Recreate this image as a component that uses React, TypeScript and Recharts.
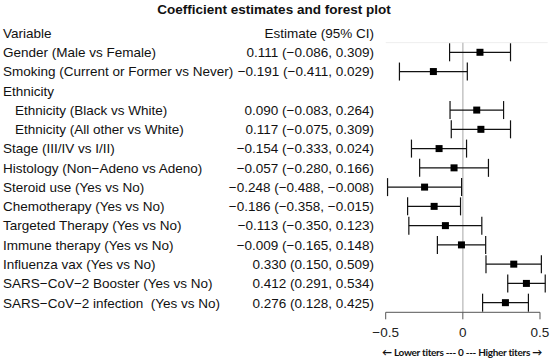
import { ScatterChart, Scatter, XAxis, YAxis, ErrorBar, ReferenceLine } from 'recharts';

// rows from top to bottom; null = heading row with no estimate
const variables = [
  'Gender (Male vs Female)',
  'Smoking (Current or Former vs Never)',
  'Ethnicity',
  'Ethnicity (Black vs White)',
  'Ethnicity (All other vs White)',
  'Stage (III/IV vs I/II)',
  'Histology (Non\u2212Adeno vs Adeno)',
  'Steroid use (Yes vs No)',
  'Chemotherapy (Yes vs No)',
  'Targeted Therapy (Yes vs No)',
  'Immune therapy (Yes vs No)',
  'Influenza vax (Yes vs No)',
  'SARS\u2212CoV\u22122 Booster (Yes vs No)',
  'SARS\u2212CoV\u22122 infection  (Yes vs No)',
];
const indented = [false, false, false, true, true, false, false, false, false, false, false, false, false, false];
const estimates = [0.111, -0.191, null, 0.090, 0.117, -0.154, -0.057, -0.248, -0.186, -0.113, -0.009, 0.330, 0.412, 0.276];
const lowerCI = [-0.086, -0.411, null, -0.083, -0.075, -0.333, -0.280, -0.488, -0.358, -0.350, -0.165, 0.150, 0.291, 0.128];
const upperCI = [0.309, 0.029, null, 0.264, 0.309, 0.024, 0.166, -0.008, -0.015, 0.123, 0.148, 0.509, 0.534, 0.425];
const xTicks = [-0.5, 0, 0.5];

const FONT = '"Liberation Sans", Arial, sans-serif';
const fmt = (v: number) => v.toFixed(3).replace('-', '\u2212');

const points = estimates
  .map((est, i) => {
    if (est === null) return null;
    const lo = lowerCI[i] as number;
    const hi = upperCI[i] as number;
    return { row: i, est, err: [est - lo, hi - est] };
  })
  .filter(Boolean);

const rowTicks = [-1, ...variables.map((_, i) => i)];

function RowLabel(props: any) {
  const { y, payload } = props;
  const i = payload.value as number;
  let name = 'Variable';
  let est = 'Estimate (95% CI)';
  let indent = 0;
  if (i >= 0) {
    name = variables[i];
    indent = indented[i] ? 12 : 0;
    const e = estimates[i];
    est = e === null ? '' : `${fmt(e)} (${fmt(lowerCI[i] as number)}, ${fmt(upperCI[i] as number)})`;
  }
  return (
    <g>
      <text x={3 + indent} y={y} dy="0.36em" fontSize={13.5} fontFamily={FONT} fill="#111" style={{ whiteSpace: 'pre' }}>
        {name}
      </text>
      {est && (
        <text x={374} y={y} dy="0.36em" textAnchor="end" fontSize={13.5} fontFamily={FONT} fill="#111">
          {est}
        </text>
      )}
    </g>
  );
}

const square = (p: any) => <rect x={p.cx - 3.5} y={p.cy - 3.5} width={7} height={7} fill="#000" />;

export default function App() {
  return (
    <div style={{ position: 'absolute', top: 0, left: 0, width: 550, height: 362, background: '#fff' }}>
      <div
        style={{
          position: 'absolute',
          top: 2,
          left: 0,
          width: 548,
          textAlign: 'center',
          fontFamily: FONT,
          fontWeight: 'bold',
          fontSize: 13.5,
          lineHeight: '16px',
          color: '#111',
        }}
      >
        Coefficient estimates and forest plot
      </div>
      <ScatterChart width={550} height={362} margin={{ top: 23.4, right: 2.3, left: 0, bottom: 0 }}>
        <XAxis
          type="number"
          dataKey="est"
          domain={[-0.5, 0.55]}
          ticks={xTicks}
          tickFormatter={(v: number) => (v === 0 ? '0' : String(v).replace('-', '\u2212'))}
          axisLine={false}
          tickLine={{ stroke: '#555' }}
          tickSize={7}
          tickMargin={8}
          height={49.7}
          tick={{ fontSize: 13.5, fontFamily: FONT, fill: '#222' }}
        />
        <YAxis
          type="number"
          dataKey="row"
          domain={[-1.5, 13.5]}
          reversed
          ticks={rowTicks}
          interval={0}
          width={385.7}
          axisLine={false}
          tickLine={false}
          tick={RowLabel}
        />
        <ReferenceLine segment={[{ x: -0.5, y: -0.5 }, { x: 0.55, y: -0.5 }]} stroke="#eeeeee" strokeWidth={1} ifOverflow="visible" />
        <ReferenceLine segment={[{ x: 0, y: -0.5 }, { x: 0, y: 13.5 }]} stroke="#c4c4c4" strokeWidth={1.5} ifOverflow="visible" />
        <ReferenceLine segment={[{ x: -0.5, y: 13.5 }, { x: 0.5, y: 13.5 }]} stroke="#555" strokeWidth={1} ifOverflow="visible" />
        <Scatter data={points} fill="#000" shape={square} isAnimationActive={false}>
          <ErrorBar dataKey="err" direction="x" width={9} stroke="#111" strokeWidth={1.2} />
        </Scatter>
      </ScatterChart>
      <div
        style={{
          position: 'absolute',
          top: 345,
          left: 362,
          width: 200,
          textAlign: 'center',
          fontFamily: 'Lato, sans-serif',
          fontWeight: 'bold',
          fontSize: 10,
          letterSpacing: -0.3,
          lineHeight: '14px',
          color: '#111',
          whiteSpace: 'nowrap',
        }}
      >
        {'\u2190 Lower titers --- 0 --- Higher titers \u2192'}
      </div>
    </div>
  );
}
